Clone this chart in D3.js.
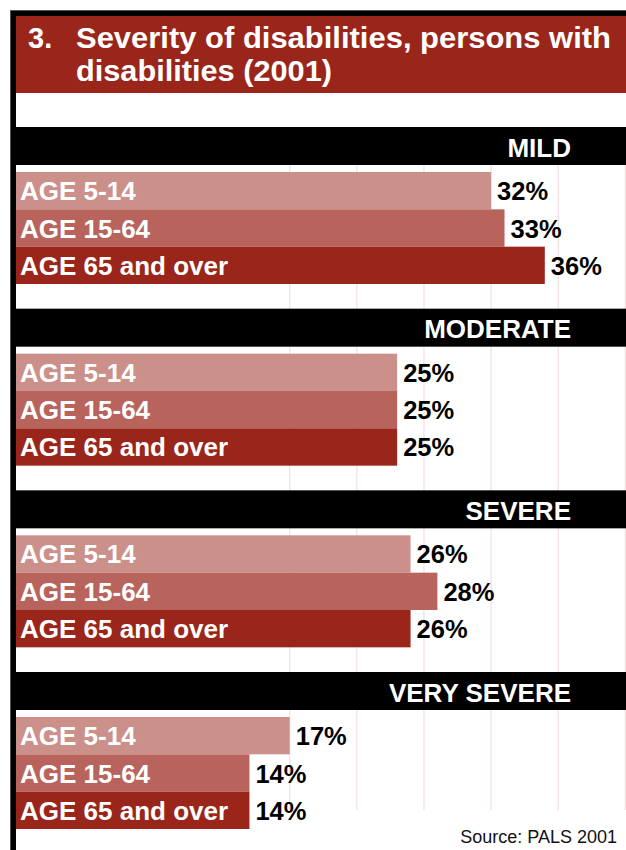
<!DOCTYPE html>
<html>
<head>
<meta charset="utf-8">
<script src="https://cdn.jsdelivr.net/npm/d3@7"></script>
<style>
  html, body { margin: 0; padding: 0; background: #fff; }
  svg { display: block; font-family: "Liberation Sans", Arial, sans-serif; }
</style>
</head>
<body>
<svg id="chart" width="626" height="850"></svg>
<script>
// ---- data ----
const titleNumber = "3.";
const titleLines = ["Severity of disabilities, persons with", "disabilities (2001)"];
const severities = ["MILD", "MODERATE", "SEVERE", "VERY SEVERE"];
const ageGroups = ["AGE 5-14", "AGE 15-64", "AGE 65 and over"];
const age5to14 = [32, 25, 26, 17];
const age15to64 = [33, 25, 28, 14];
const age65over = [36, 25, 26, 14];
const gridTicks = [17, 22, 27, 32, 37, 42];
const sourceText = "Source: PALS 2001";

const seriesValues = [age5to14, age15to64, age65over];
const colors = ["#cc908a", "#b8645d", "#9a251b"];

const W = 626, H = 850;
const svg = d3.select("#chart");
svg.append("rect").attr("width", W).attr("height", H).attr("fill", "#fff");

const left = 16;
const x = d3.scaleLinear().domain([0, 40]).range([61.5, 61.5 + 537]);
const yGroup = d3.scalePoint().domain(severities).range([127, 672]);
const headerH = 38;
const barsOffset = 45;
const yBar = d3.scaleBand().domain(ageGroups).range([0, 112]).paddingInner(0);

// gridlines
svg.append("g").selectAll("line").data(gridTicks).join("line")
  .attr("x1", d => x(d)).attr("x2", d => x(d))
  .attr("y1", 165).attr("y2", 810)
  .attr("stroke", "#f3dede").attr("stroke-width", 1.2);

// title box
svg.append("rect").attr("x", left).attr("y", 16).attr("width", W - left).attr("height", 77)
  .attr("fill", "#9a251b");
svg.append("text").attr("x", 28).attr("y", 47.5).text(titleNumber)
  .attr("fill", "#fff").attr("font-size", 29).attr("font-weight", "bold");
const titleWidths = [535, 256];
svg.append("g").selectAll("text").data(titleLines).join("text")
  .attr("x", 76).attr("y", (d, i) => 47.5 + i * 33).text(d => d)
  .attr("fill", "#fff").attr("font-size", 29).attr("font-weight", "bold")
  .attr("textLength", (d, i) => titleWidths[i]).attr("lengthAdjust", "spacingAndGlyphs");

// groups
const groups = svg.append("g").selectAll("g").data(severities).join("g")
  .attr("transform", d => `translate(0,${yGroup(d)})`);

groups.append("rect").attr("x", left).attr("y", 0).attr("width", W - left).attr("height", headerH)
  .attr("fill", "#000");
groups.append("text").attr("x", 571).attr("y", 29.5).attr("text-anchor", "end")
  .text(d => d).attr("fill", "#fff").attr("font-size", 26).attr("font-weight", "bold");

groups.each(function(sev, gi) {
  const g = d3.select(this).append("g").attr("transform", `translate(0,${barsOffset})`);
  const rows = ageGroups.map((a, ai) => ({ age: a, value: seriesValues[ai][gi], color: colors[ai] }));
  g.selectAll("rect").data(rows).join("rect")
    .attr("x", left).attr("y", d => yBar(d.age))
    .attr("width", d => x(d.value) - left).attr("height", yBar.bandwidth())
    .attr("fill", d => d.color);
  g.selectAll("text.cat").data(rows).join("text").attr("class", "cat")
    .attr("x", 20).attr("y", d => yBar(d.age) + yBar.bandwidth() / 2 + 9.5)
    .text(d => d.age).attr("fill", "#fff").attr("font-size", 26).attr("font-weight", "bold");
  g.selectAll("text.val").data(rows).join("text").attr("class", "val")
    .attr("x", d => x(d.value) + 6).attr("y", d => yBar(d.age) + yBar.bandwidth() / 2 + 9.5)
    .text(d => d.value + "%").attr("fill", "#000").attr("font-size", 25.5).attr("font-weight", "bold");
});

// frame (left and top black border)
svg.append("rect").attr("x", 10).attr("y", 10).attr("width", W - 10).attr("height", 6).attr("fill", "#000");
svg.append("rect").attr("x", 10).attr("y", 10).attr("width", 6).attr("height", H - 10).attr("fill", "#000");
svg.append("line").attr("x1", 10).attr("x2", W).attr("y1", 10.5).attr("y2", 10.5).attr("stroke", "#555").attr("stroke-width", 1);
svg.append("line").attr("x1", 10.5).attr("x2", 10.5).attr("y1", 10).attr("y2", H).attr("stroke", "#555").attr("stroke-width", 1);

// source
svg.append("text").attr("x", 617).attr("y", 842.5).attr("text-anchor", "end")
  .text(sourceText).attr("fill", "#111").attr("font-size", 18);
</script>
</body>
</html>
